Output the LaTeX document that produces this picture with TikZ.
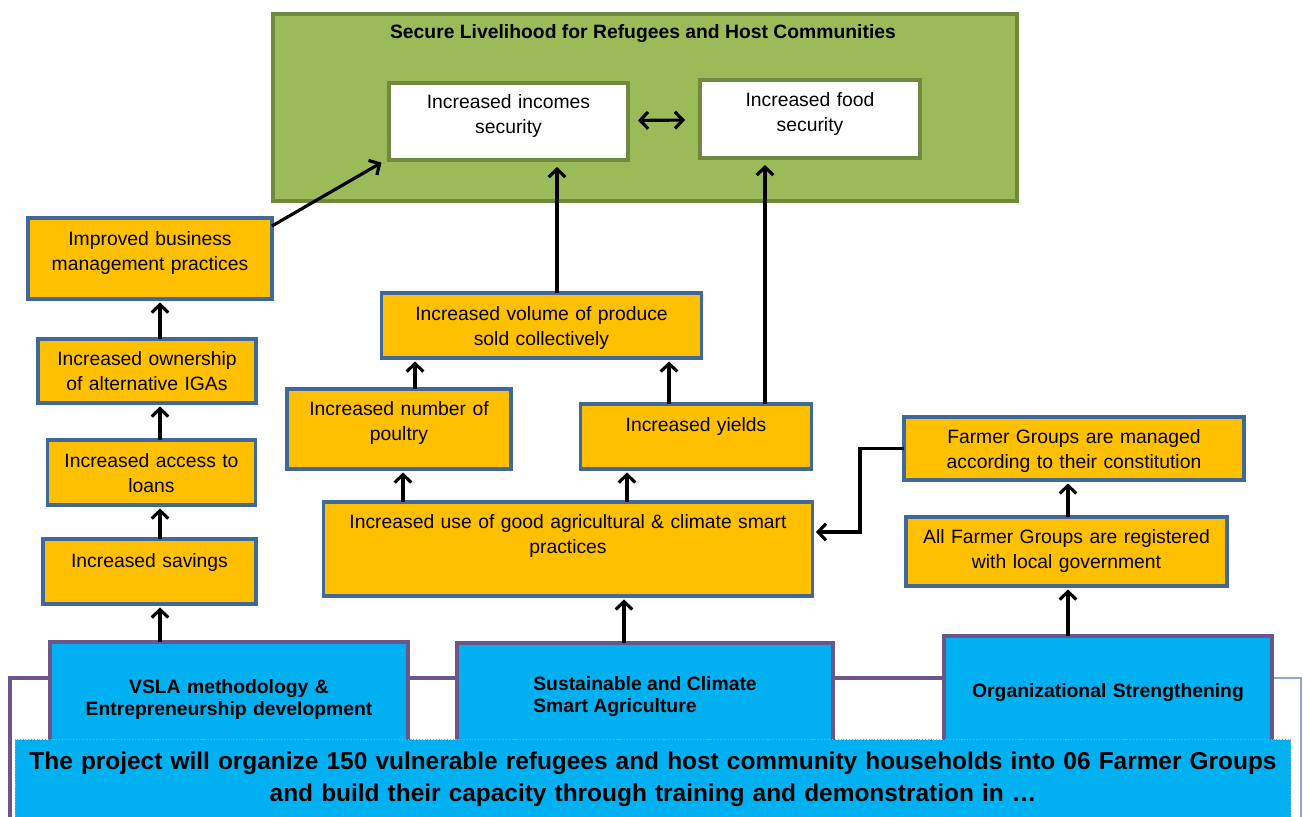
\documentclass[tikz,border=0pt]{standalone}
\usepackage{fontspec}
\setmainfont{Liberation Sans}
\usepackage{xcolor}
\usepackage{tikz}
\usetikzlibrary{positioning, arrows.meta, calc}
\definecolor{goalgreen}{HTML}{9BBB59}
\definecolor{goaledge}{HTML}{71893F}
\definecolor{outamber}{HTML}{FFC000}
\definecolor{boxedge}{HTML}{41689A}
\definecolor{pillarblue}{HTML}{00B0F0}
\definecolor{pillaredge}{HTML}{6B568C}
\definecolor{frameblue}{HTML}{8EA6DA}

\tikzset{
  outcome/.style={draw=boxedge, fill=outamber, line width=2pt, inner sep=0pt, outer sep=0pt,
    anchor=north, align=center, font=\fontsize{11}{14.5}\selectfont},
  result/.style={outcome, draw=goaledge, fill=white},
  pillar/.style={draw=pillaredge, fill=pillarblue, line width=2pt, inner sep=0pt, outer sep=0pt,
    anchor=north, align=center, font=\fontsize{11}{12.8}\selectfont\bfseries},
  link/.style={line width=1.8pt, -{Straight Barb[length=4.5pt,width=9.5pt]}, shorten >=2pt},
  dlink/.style={line width=1.8pt, {Straight Barb[length=4.5pt,width=9.5pt]}-{Straight Barb[length=4.5pt,width=9.5pt]}},
}

\begin{document}
\begin{tikzpicture}[x=0.02cm, y=-0.02cm]
  \useasboundingbox (0,0) rectangle (1303,816);
  \clip (0,0) rectangle (1303,816);

  % goal block
  \node[draw=goaledge, fill=goalgreen, line width=2.2pt, inner sep=0pt, anchor=north west,
        minimum width=14.88cm, minimum height=3.74cm] (goal) at (271,12) {};
  \node[font=\fontsize{11}{13}\selectfont\bfseries, anchor=base] (title) at (643,38)
    {Secure Livelihood for Refugees and Host Communities};
  \node[result, minimum width=4.78cm, text width=4.6cm, text height=0.50cm, text depth=1.04cm]
    (inc) at (508.5,83) {Increased incomes\\security};
  \node[result, minimum width=4.40cm, text width=4.2cm, text height=0.52cm, text depth=1.04cm]
    (food) at (810,80) {Increased food\\security};

  % savings column
  \node[outcome, minimum width=4.88cm, text width=4.7cm, text height=0.54cm, text depth=1.08cm]
    (biz) at (150,218) {Improved business\\management practices};
  \node[outcome, minimum width=4.36cm, text width=4.2cm, text height=0.52cm, text depth=0.76cm]
    (iga) at (147,339) {Increased ownership\\of alternative IGAs};
  \node[outcome, minimum width=4.16cm, text width=4.0cm, text height=0.54cm, text depth=0.76cm]
    (loans) at (151.5,440) {Increased access to\\loans};
  \node[outcome, minimum width=4.26cm, text width=4.1cm, text height=0.56cm, text depth=0.74cm]
    (sav) at (149.5,539) {Increased savings};

  % agriculture column
  \node[outcome, minimum width=6.40cm, text width=6.2cm, text height=0.54cm, text depth=0.76cm]
    (vol) at (541.5,293) {Increased volume of produce\\sold collectively};
  \node[outcome, minimum width=4.48cm, text width=4.3cm, text height=0.52cm, text depth=1.08cm]
    (poul) at (399,389) {Increased number of\\poultry};
  \node[outcome, minimum width=4.62cm, text width=4.4cm, text height=0.54cm, text depth=0.76cm]
    (yld) at (696,404) {Increased yields};
  \node[outcome, minimum width=9.78cm, text width=9.6cm, text height=0.52cm, text depth=1.36cm]
    (prac) at (568,502) {Increased use of good agricultural \& climate smart\\practices};

  % group column
  \node[outcome, minimum width=6.80cm, text width=6.6cm, text height=0.52cm, text depth=0.74cm]
    (mgd) at (1074,417) {Farmer Groups are managed\\according to their constitution};
  \node[outcome, minimum width=6.42cm, text width=6.2cm, text height=0.52cm, text depth=0.86cm]
    (reg) at (1066.5,517) {All Farmer Groups are registered\\with local government};

  % frame behind the three pillars
  \draw[pillaredge, line width=1.8pt] (10,830) -- (10,678) -- (1272,678);
  \draw[frameblue, line width=0.8pt] (1272,678) -- (1301,678) -- (1301,830);

  \node[pillar, minimum width=7.16cm, text width=7.0cm, text height=1.02cm, text depth=1.34cm]
    (vsla) at (229,642) {VSLA methodology \&\\Entrepreneurship development};
  \node[pillar, minimum width=7.52cm, text height=0.94cm, text depth=1.40cm]
    (csa) at (645,643) {\begin{tabular}[t]{@{}l@{}}Sustainable and Climate\\Smart Agriculture\end{tabular}};
  \node[pillar, minimum width=6.56cm, text width=6.4cm, text height=1.24cm, text depth=1.24cm]
    (org) at (1108,636) {Organizational Strengthening};

  \node[draw=frameblue, densely dotted, line width=0.6pt, fill=pillarblue, inner sep=0pt,
        anchor=north, align=center, minimum width=25.52cm, text width=25.4cm,
        text height=0.60cm, text depth=1.22cm, font=\fontsize{13.9}{18.2}\selectfont\bfseries]
    (scope) at (653,739)
    {The project will organize 150 vulnerable refugees and host community households into 06 Farmer Groups\\
     and build their capacity through training and demonstration in …};

  % columns the vertical links run on
  \coordinate (xl) at (160,0);
  \coordinate (xinc) at (557,0);
  \coordinate (xfood) at (765,0);
  \coordinate (xpv) at (415,0);
  \coordinate (xyv) at (669,0);
  \coordinate (xpp) at (403,0);
  \coordinate (xpy) at (627,0);
  \coordinate (xcsa) at (624,0);
  \coordinate (xg) at (1068,0);
  \coordinate (elb) at (860,532);

  \draw[link] (vsla.north -| xl) -- (sav.south -| xl);
  \draw[link] (sav.north -| xl) -- (loans.south -| xl);
  \draw[link] (loans.north -| xl) -- (iga.south -| xl);
  \draw[link] (iga.north -| xl) -- (biz.south -| xl);
  \draw[link, shorten >=3pt] ([yshift=-0.16cm]biz.north east) -- ([xshift=-0.06cm]inc.south west);

  \draw[link] (csa.north -| xcsa) -- (prac.south -| xcsa);
  \draw[link] (prac.north -| xpp) -- (poul.south -| xpp);
  \draw[link] (prac.north -| xpy) -- (yld.south -| xpy);
  \draw[link] (poul.north -| xpv) -- (vol.south -| xpv);
  \draw[link] (yld.north -| xyv) -- (vol.south -| xyv);
  \draw[link, shorten >=4pt] (vol.north -| xinc) -- (inc.south -| xinc);
  \draw[link, shorten >=4pt] (yld.north -| xfood) -- (food.south -| xfood);
  \draw[dlink, shorten <=0.2cm, shorten >=0.3cm] (inc) -- (food);

  \draw[link] (org.north -| xg) -- (reg.south -| xg);
  \draw[link] (reg.north -| xg) -- (mgd.south -| xg);
  \draw[link] (mgd.west) -| (elb) -- (elb -| prac.east);
\end{tikzpicture}
\end{document}
